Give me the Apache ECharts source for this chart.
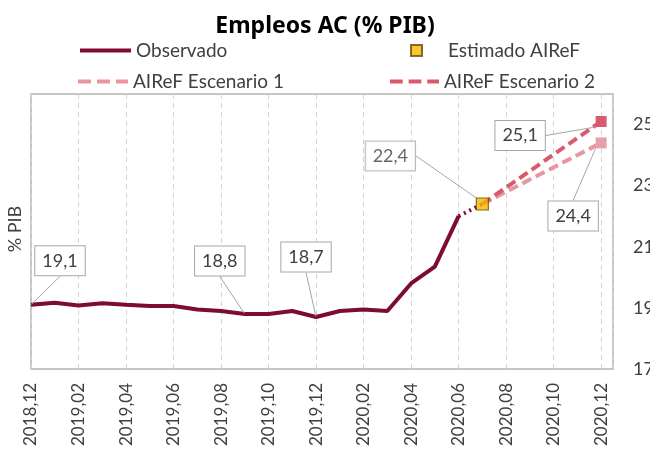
<!DOCTYPE html>
<html>
<head>
<meta charset="utf-8">
<title>Empleos AC</title>
<script src="https://cdn.jsdelivr.net/npm/echarts@6/dist/echarts.min.js"></script>
<style>
  html, body { margin: 0; padding: 0; background: #fff; }
  #chart { width: 650px; height: 450px; }
</style>
</head>
<body>
<div id="chart"></div>
<script>
// meses (eje x)
var months = ['2018,12', '2019,01', '2019,02', '2019,03', '2019,04', '2019,05', '2019,06',
  '2019,07', '2019,08', '2019,09', '2019,10', '2019,11', '2019,12', '2020,01', '2020,02',
  '2020,03', '2020,04', '2020,05', '2020,06', '2020,07', '2020,08', '2020,09', '2020,10',
  '2020,11', '2020,12'];

// serie observada 2018.12 - 2020.06
var observado = [19.1, 19.17, 19.08, 19.15, 19.1, 19.06, 19.06, 18.95, 18.9, 18.8, 18.8,
  18.9, 18.7, 18.9, 18.95, 18.9, 19.8, 20.35, 22.0];

// estimado AIReF (2020.07)
var estimadoIdx = 19;
var estimado = 22.4;

// escenarios 2020.07 -> 2020.12
var escIdx = [19, 24];
var escenario1 = [22.4, 24.4];
var escenario2 = [22.4, 25.1];

// valores que llevan etiqueta en la serie observada
var obsLabelIdx = [0, 9, 12];

var FONT = 'Lato';
var TXT = '#404040';
var C_OBS = '#7d0c2e';
var C_ESC1 = '#e8959f';
var C_ESC2 = '#d95a6e';

function fmt(p) {
  return p.value[1].toFixed(1).replace('.', ',');
}

var labelBox = {
  position: 'inside',
  formatter: fmt,
  color: TXT,
  fontFamily: FONT,
  fontSize: 18,
  backgroundColor: '#fff',
  borderColor: '#a6a6a6',
  borderWidth: 1,
  padding: [6, 7, 5, 7]
};
var guide = { show: true, lineStyle: { color: '#a6a6a6', width: 1 } };

// desplazamientos de las etiquetas (px)
var obsOffsets = { 0: [29, -44], 9: [-25, -53], 12: [-10, -60] };
var estOffset = [-92, -48];
var esc1Offset = [-28, 73];
var esc2Offset = [-81, 14];

// icono de leyenda con tres guiones
var dashIcon = 'path://M0,0h13v4h-13z M19,0h13v4h-13z M38,0h12v4h-12z';

function escData(vals) {
  return vals.map(function (v, i) {
    if (i === vals.length - 1) {
      return { value: [escIdx[i], v], symbol: 'rect', symbolSize: 11, label: { show: true } };
    }
    return { value: [escIdx[i], v], symbolSize: 0, label: { show: false } };
  });
}

var legendText = { fontFamily: FONT, fontSize: 19, color: TXT };

var chart = echarts.init(document.getElementById('chart'));

chart.setOption({
  backgroundColor: '#fff',
  animation: false,
  title: {
    text: 'Empleos AC (% PIB)',
    left: 'center',
    top: 10,
    textStyle: { fontFamily: 'Noto Sans', fontSize: 23, fontWeight: 'bold', color: '#000' }
  },
  legend: [
    {
      data: ['Observado'], left: 78, top: 41, padding: 0, itemWidth: 51, itemHeight: 14,
      lineStyle: { width: 4 }, itemStyle: { color: 'rgba(0,0,0,0)', borderWidth: 0 },
      textStyle: legendText
    },
    {
      data: ['Estimado AIReF'], left: 410, top: 41, padding: 0, icon: 'rect',
      itemWidth: 11, itemHeight: 11,
      textStyle: { fontFamily: FONT, fontSize: 19, color: TXT, padding: [0, 0, 0, 21] }
    },
    {
      data: ['AIReF Escenario 1'], left: 78, top: 72, padding: 0, icon: dashIcon,
      itemWidth: 50, itemHeight: 4,
      itemStyle: { color: C_ESC1, borderWidth: 0 }, textStyle: legendText
    },
    {
      data: ['AIReF Escenario 2'], left: 390, top: 72, padding: 0, icon: dashIcon,
      itemWidth: 49, itemHeight: 4,
      itemStyle: { color: C_ESC2, borderWidth: 0 }, textStyle: legendText
    }
  ],
  grid: {
    left: 31, right: 37, top: 94, bottom: 81,
    outerBoundsMode: 'none',
    show: true, borderColor: '#b3b3b3', borderWidth: 1.5, backgroundColor: '#fff'
  },
  graphic: [{
    type: 'text',
    x: 15, y: 229,
    rotation: Math.PI / 2,
    style: {
      text: '% PIB', fontFamily: FONT, fontSize: 18, fill: TXT,
      align: 'center', verticalAlign: 'middle'
    }
  }],
  xAxis: {
    type: 'value',
    min: 0, max: 24.5, interval: 2,
    axisLine: { show: false },
    axisTick: { show: false },
    splitLine: { show: true, lineStyle: { color: '#d4d4d4', type: [5, 4], width: 1 } },
    axisLabel: {
      rotate: 90, margin: 14, color: TXT, fontFamily: FONT, fontSize: 17,
      showMaxLabel: false,
      formatter: function (v) {
        return Number.isInteger(v) && months[v] ? months[v] : '';
      }
    }
  },
  yAxis: {
    type: 'value',
    position: 'right',
    min: 17, max: 26, interval: 1,
    axisLine: { show: false },
    axisTick: { show: false },
    splitLine: { show: false },
    axisLabel: {
      margin: 20, color: TXT, fontFamily: FONT, fontSize: 18,
      formatter: function (v) { return v % 2 === 1 ? String(v) : ''; }
    }
  },
  series: [
    {
      name: 'Observado',
      type: 'line',
      data: observado.map(function (v, i) {
        return { value: [i, v], label: { show: obsLabelIdx.indexOf(i) >= 0 } };
      }),
      symbol: 'circle', symbolSize: 1, showSymbol: true,
      lineStyle: { color: C_OBS, width: 4 },
      itemStyle: { color: C_OBS },
      label: labelBox,
      labelLine: guide,
      labelLayout: function (p) {
        var o = obsOffsets[p.dataIndex];
        return o ? { dx: o[0], dy: o[1] } : {};
      },
      z: 3
    },
    {
      name: 'enlace',
      type: 'line',
      data: [[observado.length - 1, observado[observado.length - 1]], [estimadoIdx, estimado]],
      symbol: 'none',
      lineStyle: { color: C_OBS, width: 4, type: [2, 4] },
      z: 3
    },
    {
      name: 'AIReF Escenario 1',
      type: 'line',
      data: escData(escenario1),
      lineStyle: { color: C_ESC1, width: 4, type: [10, 5] },
      itemStyle: { color: '#e8a0a8' },
      label: labelBox,
      labelLine: guide,
      labelLayout: function (p) {
        return p.dataIndex === 1 ? { dx: esc1Offset[0], dy: esc1Offset[1] } : {};
      },
      z: 4
    },
    {
      name: 'AIReF Escenario 2',
      type: 'line',
      data: escData(escenario2),
      lineStyle: { color: C_ESC2, width: 4, type: [10, 5] },
      itemStyle: { color: C_ESC2 },
      label: labelBox,
      labelLine: guide,
      labelLayout: function (p) {
        return p.dataIndex === 1 ? { dx: esc2Offset[0], dy: esc2Offset[1] } : {};
      },
      z: 5
    },
    {
      name: 'Estimado AIReF',
      type: 'scatter',
      data: [{ value: [estimadoIdx, estimado], label: { show: true } }],
      symbol: 'rect', symbolSize: 12,
      itemStyle: { color: '#f5b800', borderColor: '#6b4a00', borderWidth: 1.2 },
      label: labelBox,
      labelLine: guide,
      labelLayout: function () {
        return { dx: estOffset[0], dy: estOffset[1] };
      },
      z: 6
    }
  ]
});
</script>
</body>
</html>
